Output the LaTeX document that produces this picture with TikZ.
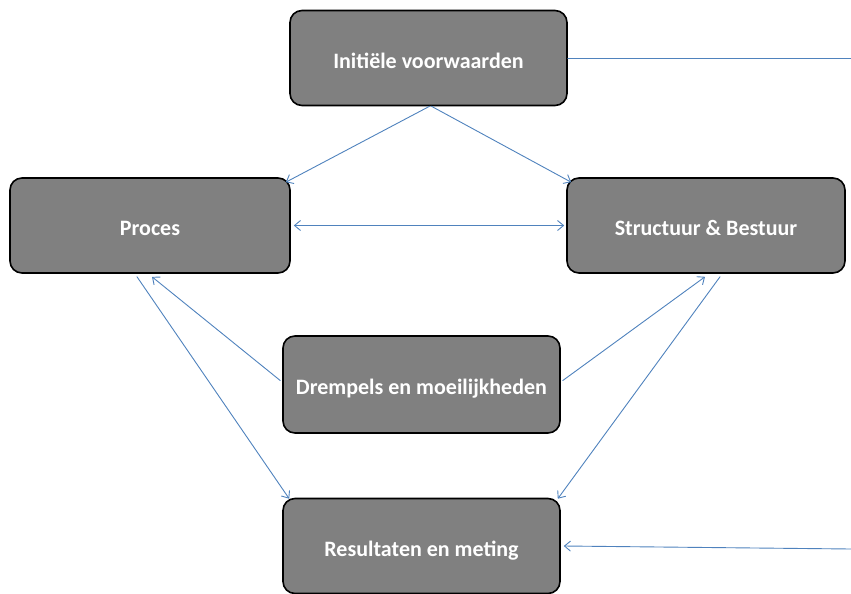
\documentclass[tikz,border=0pt]{standalone}
\usepackage{fontspec}
\setmainfont{Carlito}
\usepackage{tikz}
\usetikzlibrary{arrows.meta}
\definecolor{wqxbbd}{rgb}{0.31,0.51,0.74}
\definecolor{zzzzzz}{rgb}{0.5,0.5,0.5}
\begin{document}
\begin{tikzpicture}[line cap=round,line join=round,>={Straight Barb[length=6pt,width=10pt]},x=1.0pt,y=-1.0pt,
    blok/.style={draw=black,line width=1.6pt,fill=zzzzzz,rounded corners=12pt,
      minimum width=277pt,minimum height=95pt,text height=20pt,text depth=0pt,
      text=white,font=\fontsize{22}{26}\selectfont\bfseries},
    pijl/.style={color=wqxbbd,line width=0.9pt}]
    \useasboundingbox (0,0) rectangle (851,594);
    \draw (428.5,58) node[blok] (init) {Initiële voorwaarden};
    \draw (150,225.5) node[blok,minimum width=280pt] (proc) {Proces};
    \draw (706,225.5) node[blok,minimum width=278pt] (stru) {Structuur \& Bestuur};
    \draw (421.5,384.5) node[blok,minimum height=97pt] (drem) {Drempels en moeilijkheden};
    \draw (421.5,546) node[blok] (resu) {Resultaten en meting};
    \coordinate (rechtsboven) at (851,58);
    \coordinate (rechtsonder) at (851,549);
    \draw [pijl] (init.east) -- (rechtsboven);
    \draw [pijl,->] (rechtsonder) -- ([xshift=3pt]resu.east);
    \draw [pijl,->] ([xshift=1pt]init.south) -- ([shift={(-5,5)}]proc.north east);
    \draw [pijl,->] ([xshift=3pt]init.south) -- ([shift={(5,5)}]stru.north west);
    \draw [pijl,<->] ([xshift=3pt]proc.east) -- ([xshift=-2pt]stru.west);
    \draw [pijl,->] ([shift={(-2,-4)}]drem.west) -- ([shift={(2,3)}]proc.south);
    \draw [pijl,->] ([shift={(2,-4)}]drem.east) -- ([shift={(-1,3)}]stru.south);
    \draw [pijl,->] ([shift={(-13,3)}]proc.south) -- ([shift={(7,1)}]resu.north west);
    \draw [pijl,->] ([shift={(14,3)}]stru.south) -- ([shift={(-3,1)}]resu.north east);
\end{tikzpicture}
\end{document}
